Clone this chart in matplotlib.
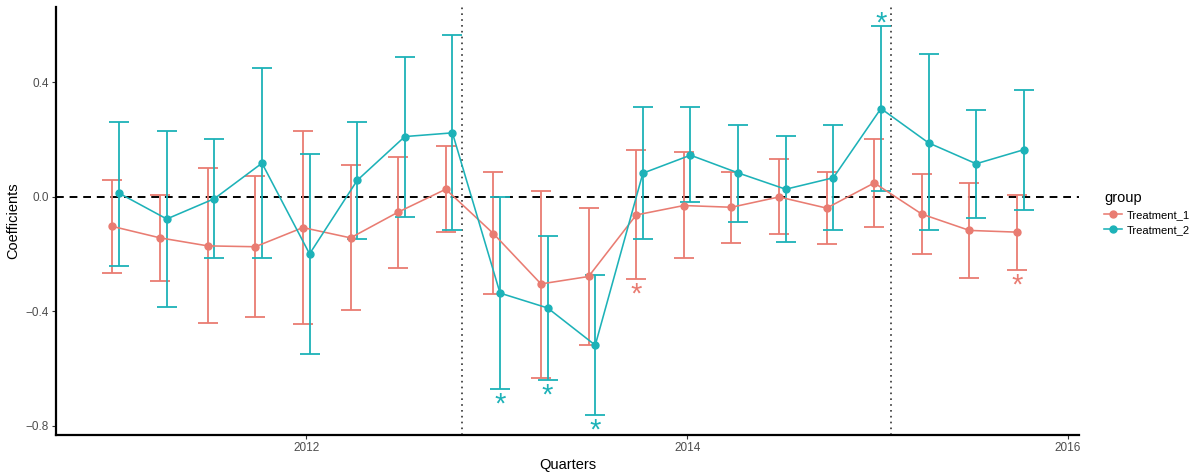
import matplotlib
matplotlib.use("Agg")
import matplotlib.pyplot as plt
import numpy as np

plt.rcParams["font.family"] = ["Liberation Sans", "DejaVu Sans"]

# quarters 2011 Q1 .. 2015 Q4 as decimal years
quarters = [2011 + q * 0.25 for q in range(20)]

# Treatment_1 coefficients and 95% CI
t1_coef = [-0.103, -0.143, -0.171, -0.174, -0.107, -0.143, -0.053, 0.027,
           -0.128, -0.304, -0.278, -0.063, -0.030, -0.036, 0.000, -0.039,
           0.049, -0.060, -0.117, -0.123]
t1_low = [-0.266, -0.292, -0.439, -0.420, -0.443, -0.396, -0.250, -0.121,
          -0.340, -0.631, -0.518, -0.288, -0.214, -0.160, -0.131, -0.165,
          -0.105, -0.200, -0.282, -0.255]
t1_high = [0.060, 0.007, 0.100, 0.074, 0.232, 0.113, 0.140, 0.178,
           0.087, 0.021, -0.037, 0.163, 0.156, 0.088, 0.131, 0.087,
           0.201, 0.079, 0.048, 0.007]

# Treatment_2 coefficients and 95% CI
t2_coef = [0.013, -0.077, -0.006, 0.118, -0.199, 0.058, 0.211, 0.224,
           -0.336, -0.388, -0.518, 0.083, 0.146, 0.084, 0.027, 0.067,
           0.309, 0.189, 0.116, 0.165]
t2_low = [-0.240, -0.383, -0.214, -0.214, -0.548, -0.146, -0.071, -0.115,
          -0.672, -0.638, -0.763, -0.147, -0.016, -0.086, -0.159, -0.116,
          0.022, -0.117, -0.074, -0.045]
t2_high = [0.262, 0.229, 0.204, 0.451, 0.151, 0.262, 0.490, 0.566,
           0.001, -0.136, -0.274, 0.315, 0.313, 0.253, 0.214, 0.251,
           0.596, 0.498, 0.303, 0.375]

# significance stars: index -> side of the interval
t1_stars = {11: "low", 19: "low"}
t2_stars = {8: "low", 9: "low", 10: "low", 16: "high"}

event_lines = [2012.82, 2015.07]

series = [
    ("Treatment_1", t1_coef, t1_low, t1_high, t1_stars, "#E97C72", -0.0175),
    ("Treatment_2", t2_coef, t2_low, t2_high, t2_stars, "#1DB2B8", 0.0175),
]

fig = plt.figure(figsize=(11.97, 4.73), dpi=100)
ax = fig.add_axes([0.0468, 0.0803, 0.855, 0.905])

ax.axhline(0, color="black", linestyle=(0, (4, 3)), linewidth=1.4, zorder=1)
for v in event_lines:
    ax.axvline(v, color="#333333", linestyle=(0, (1, 2.5)), linewidth=1.2, zorder=1)

star_size = 21
star_mid = 0.46 * star_size  # height of the asterisk glyph centre above baseline
handles = []
for name, coef, low, high, stars, col, dodge in series:
    x = np.array(quarters) + dodge
    coef = np.array(coef)
    yerr = [coef - np.array(low), np.array(high) - coef]
    ax.errorbar(x, coef, yerr=yerr, fmt="none", ecolor=col, elinewidth=1.3,
                capsize=7.5, capthick=1.3, zorder=2)
    ln, = ax.plot(x, coef, color=col, linewidth=1.15, marker="o",
                  markersize=5, zorder=3, label=name)
    handles.append(ln)
    for i, side in stars.items():
        if side == "low":
            ax.annotate("*", xy=(x[i], low[i]), xytext=(0, -7.3 - star_mid),
                        textcoords="offset points", ha="center", va="baseline",
                        color=col, fontsize=star_size)
        else:
            ax.annotate("*", xy=(x[i], high[i]), xytext=(0, 5.8 - star_mid),
                        textcoords="offset points", ha="center", va="baseline",
                        color=col, fontsize=star_size)

ax.set_xlim(2010.686, 2016.06)
ax.set_ylim(-0.832, 0.664)
ax.set_xticks([2012, 2014, 2016])
ax.set_yticks([-0.8, -0.4, 0.0, 0.4])
ax.set_yticklabels(["\u22120.8", "\u22120.4", "0.0", "0.4"])
ax.tick_params(axis="both", labelsize=8.5, labelcolor="#4D4D4D",
               length=3, width=0.8, color="#333333", pad=2)
for s in ["top", "right"]:
    ax.spines[s].set_visible(False)
for s in ["left", "bottom"]:
    ax.spines[s].set_linewidth(1.6)
ax.set_xlabel("Quarters", fontsize=10.5, labelpad=3)
ax.set_ylabel("Coefficients", fontsize=10.5, labelpad=4)

leg = fig.legend(handles=handles, title="group", loc="upper left",
                 bbox_to_anchor=(0.914, 0.617), frameon=False, fontsize=8,
                 title_fontsize=10.5, alignment="left", handlelength=1.6,
                 handletextpad=0.4, labelspacing=0.45)

fig.savefig("out.png", dpi=100)
